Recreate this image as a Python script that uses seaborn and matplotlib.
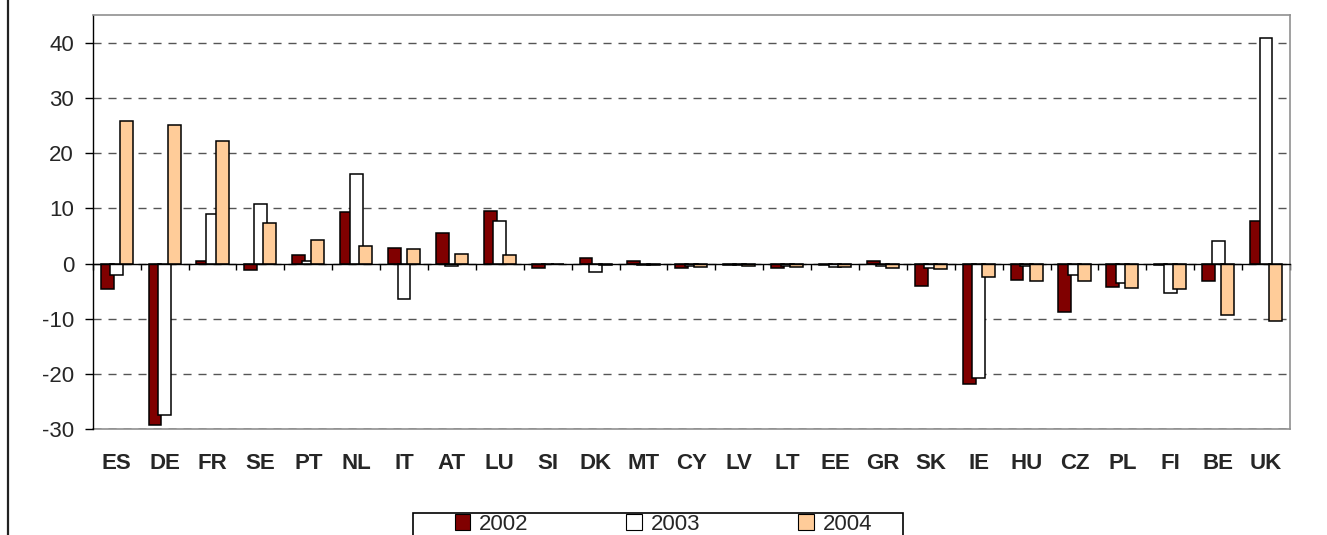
import numpy as np
import pandas as pd
import matplotlib
matplotlib.use("Agg")
import matplotlib.pyplot as plt
import seaborn as sns
from matplotlib.patches import Rectangle, Patch
from matplotlib.lines import Line2D

# ------------------------------------------------------------
# Data
# ------------------------------------------------------------
countries = ["ES", "DE", "FR", "SE", "PT", "NL", "IT", "AT", "LU", "SI",
             "DK", "MT", "CY", "LV", "LT", "EE", "GR", "SK", "IE", "HU",
             "CZ", "PL", "FI", "BE", "UK"]

values_2002 = [-4.7, -29.3, 0.5, -1.1, 1.5, 9.3, 2.8, 5.6, 9.5, -0.8,
               1.0, 0.5, -0.8, -0.2, -0.8, -0.3, 0.5, -4.1, -21.9, -2.9,
               -8.8, -4.2, -0.3, -3.1, 7.7]
values_2003 = [-2.1, -27.5, 9.0, 10.8, 0.5, 16.2, -6.5, -0.5, 7.7, 0.0,
               -1.6, -0.3, -0.5, -0.2, -0.4, -0.7, -0.5, -0.8, -20.8, -0.5,
               -2.1, -3.6, -5.4, 4.1, 40.8]
values_2004 = [25.8, 25.1, 22.3, 7.4, 4.2, 3.1, 2.6, 1.8, 1.5, 0.0,
               -0.3, -0.3, -0.6, -0.5, -0.6, -0.6, -0.8, -1.0, -2.4, -3.1,
               -3.1, -4.4, -4.7, -9.3, -10.5]

years = ["2002", "2003", "2004"]
year_colors = {"2002": "#800000", "2003": "#FFFFFF", "2004": "#FFCC99"}

df = pd.DataFrame({
    "country": countries * 3,
    "year": ["2002"] * 25 + ["2003"] * 25 + ["2004"] * 25,
    "value": values_2002 + values_2003 + values_2004,
})

# ------------------------------------------------------------
# Style
# ------------------------------------------------------------
sns.set_style("white")
plt.rcParams["font.family"] = ["Liberation Sans", "DejaVu Sans"]
plt.rcParams["axes.unicode_minus"] = False

label_size = 16

fig = plt.figure(figsize=(13.27, 5.35), dpi=100)
ax = fig.add_axes([0.0699, 0.198, 0.9022, 0.7734])

sns.barplot(
    data=df, x="country", y="value", hue="year",
    order=countries, hue_order=years, palette=year_colors,
    saturation=1, width=0.6, edgecolor="black", linewidth=1.1,
    legend=False, ax=ax, zorder=3,
)

# Excel style bars overlap slightly: widen each bar about its centre
new_w = 0.27
for p in ax.patches:
    w = p.get_width()
    p.set_x(p.get_x() - (new_w - w) / 2)
    p.set_width(new_w)

ax.set_xlim(-0.5, len(countries) - 0.5)
ax.set_ylim(-30, 45)
ax.set_yticks(np.arange(-30, 41, 10))
ax.set_xlabel("")
ax.set_ylabel("")

# dashed horizontal grid
ax.set_axisbelow(True)
ax.yaxis.grid(True, color="#555555", linewidth=1.0, linestyle=(0, (5.8, 5)))

ax.tick_params(axis="y", which="major", length=5.5, width=1.0,
               direction="out", color="black", labelsize=label_size, pad=8,
               left=True)

# category axis crosses at zero, with boundary tick marks
ax.spines["bottom"].set_position(("data", 0))
ax.spines["bottom"].set_color("black")
ax.spines["bottom"].set_linewidth(1.0)
ax.spines["bottom"].set_zorder(4)
ax.tick_params(axis="x", which="major", length=0, labelbottom=False)
ax.set_xticks(np.arange(len(countries) + 1) - 0.5, minor=True)
ax.tick_params(axis="x", which="minor", length=4.5, width=1.0,
               direction="out", color="black", bottom=True)

ax.spines["left"].set_color("black")
ax.spines["left"].set_linewidth(1.0)
for side in ["top", "right"]:
    ax.spines[side].set_visible(True)
    ax.spines[side].set_color("#909090")
    ax.spines[side].set_linewidth(1.2)

# category labels under the plot area
sec = ax.secondary_xaxis("bottom")
sec.set_xticks(range(len(countries)), labels=countries)
sec.tick_params(length=0, pad=17, labelsize=label_size)
for lab in sec.get_xticklabels():
    lab.set_fontweight("bold")
sec.spines["bottom"].set_color("#909090")
sec.spines["bottom"].set_linewidth(1.2)

# ------------------------------------------------------------
# Legend (cut by the bottom edge, as in the reference)
# ------------------------------------------------------------
handles = [Patch(facecolor=year_colors[y], edgecolor="black", linewidth=0.8,
                 label=y) for y in years]
fig.legend(handles=handles, ncol=3, loc="upper left",
           bbox_to_anchor=(460 / 1327 - 0.004, 1 - 514 / 535),
           frameon=False, fontsize=label_size, handlelength=0.7,
           handleheight=0.7, handletextpad=0.4, columnspacing=4.4,
           borderpad=0, borderaxespad=0)
fig.add_artist(Rectangle((413 / 1327, -0.05), 490 / 1327, 0.05 + 22 / 535,
                         transform=fig.transFigure, facecolor="none",
                         edgecolor="black", linewidth=1.2))

# left border of the chart area
fig.add_artist(Line2D([7.5 / 1327, 7.5 / 1327], [0, 1],
                      transform=fig.transFigure, color="#222222",
                      linewidth=1.6))

plt.savefig("out.png", dpi=100)
plt.close()
